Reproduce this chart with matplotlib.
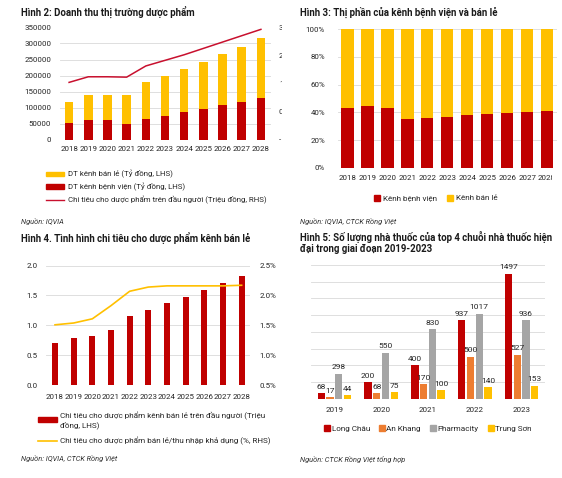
import matplotlib
matplotlib.use('Agg')
import matplotlib.pyplot as plt
from matplotlib.patches import Patch
from matplotlib.lines import Line2D
from matplotlib.transforms import Bbox, TransformedBbox
import numpy as np

plt.rcParams['font.family'] = ['Roboto', 'DejaVu Sans']

W, H = 562, 478
RED = '#C00000'
YEL = '#FFC000'
ORG = '#ED7D31'
GRAY = '#A5A5A5'
GRID = '#D9D9D9'
TXT = '#262626'

years = ['2018', '2019', '2020', '2021', '2022', '2023', '2024', '2025', '2026', '2027', '2028']

# Hinh 2 - doanh thu (ty dong) va chi tieu dau nguoi (trieu dong)
dt_benh_vien = [51200, 60600, 59500, 47000, 62700, 73100, 84600, 95100, 106600, 118000, 129500]
dt_ban_le = [66800, 77400, 80500, 91000, 116000, 125400, 135800, 148300, 160900, 172400, 187100]
chi_tieu_dau_nguoi = [1.53, 1.68, 1.68, 1.67, 1.97, 2.12, 2.27, 2.44, 2.61, 2.78, 2.95]
rhs_ticks = [0, 0.75, 1.5, 2.25, 3.0]
rhs_labels = ['-', '0.8', '1.5', '2.3', '3.0']

# Hinh 3 - thi phan (%)
tp_benh_vien = [43.4, 44.8, 43.2, 35.0, 36.0, 36.7, 38.1, 38.8, 39.8, 40.3, 41.2]
tp_ban_le = [56.6, 55.2, 56.8, 65.0, 64.0, 63.3, 61.9, 61.2, 60.2, 59.7, 58.8]

# Hinh 4 - chi tieu kenh ban le
ct_ban_le = [0.70, 0.79, 0.82, 0.92, 1.165, 1.26, 1.37, 1.48, 1.59, 1.71, 1.83]
ct_thu_nhap = [1.51, 1.54, 1.61, 1.83, 2.07, 2.14, 2.16, 2.16, 2.16, 2.16, 2.17]

# Hinh 5 - so luong nha thuoc
years5 = ['2019', '2020', '2021', '2022', '2023']
chains = ['Long Châu', 'An Khang', 'Pharmacity', 'Trung Sơn']
long_chau = [68, 200, 400, 937, 1497]
an_khang = [17, 68, 170, 500, 527]
pharmacity = [298, 550, 830, 1017, 936]
trung_son = [44, 75, 100, 140, 153]

fig = plt.figure(figsize=(W / 100, H / 100), dpi=100)


def add_ax(x0, y0, x1, y1):
    # pixel box, measured from the top left corner
    return fig.add_axes([x0 / W, 1 - y1 / H, (x1 - x0) / W, (y1 - y0) / H])


def clip_at(artist, xpix):
    artist.set_clip_on(True)
    artist.set_clip_box(TransformedBbox(Bbox([[0, 0], [xpix / W, 1]]), fig.transFigure))


def style(ax, fs=5.7):
    for s in ax.spines.values():
        s.set_visible(False)
    ax.tick_params(length=0, labelsize=fs, colors=TXT)


TITLE = dict(fontsize=6.9, fontweight='bold', color='#1a1a1a', va='center')
SRC = dict(fontsize=5.3, style='italic', color='#333333', va='center')
x = np.arange(len(years))

# ---------- Hinh 2 ----------
ax2 = add_ax(59.5, 27.5, 270.5, 139.5)
ax2.bar(x, dt_benh_vien, width=0.45, color=RED, zorder=2)
ax2.bar(x, dt_ban_le, bottom=dt_benh_vien, width=0.45, color=YEL, zorder=2)
ax2.set_xlim(-0.5, 10.5)
ax2.set_ylim(0, 350000)
ax2.set_yticks(range(0, 350001, 50000))
ax2.set_xticks(x, years)
ax2.grid(axis='y', color=GRID, lw=0.6, zorder=0)
style(ax2)
ax2.tick_params(axis='y', pad=6)
ax2.tick_params(axis='x', pad=5)
ax2r = ax2.twinx()
ax2r.plot(x, chi_tieu_dau_nguoi, color='#C8102E', lw=1.1)
ax2r.set_ylim(0, 3.0)
ax2r.set_yticks(rhs_ticks, rhs_labels)
style(ax2r)
ax2r.tick_params(axis='y', pad=6)
for lab in ax2r.get_yticklabels():
    clip_at(lab, 282)

h2 = [Patch(color=YEL), Patch(color=RED), Line2D([], [], color='#C8102E', lw=1.0)]
l2 = ['DT kênh bán lẻ (Tỷ đồng, LHS)', 'DT kênh bệnh viện (Tỷ đồng, LHS)',
      'Chi tiêu cho dược phẩm trên đầu người (Triệu đồng, RHS)']
ax2.legend(h2, l2, loc='upper left', bbox_to_anchor=(46 / W, 1 - 170 / H),
           bbox_transform=fig.transFigure, frameon=False, fontsize=5.7,
           handlelength=2.3, handleheight=0.5, handletextpad=0.5,
           labelspacing=0.55, borderpad=0, borderaxespad=0, labelcolor=TXT)
fig.text(21 / W, 1 - 12 / H, 'Hình 2: Doanh thu thị trường dược phẩm', **TITLE)
fig.text(21 / W, 1 - 222 / H, 'Nguồn: IQVIA', **SRC)

# ---------- Hinh 3 ----------
ax3 = add_ax(337.5, 29, 557, 168)
ax3.bar(x, tp_benh_vien, width=0.62, color=RED, zorder=2)
ax3.bar(x, tp_ban_le, bottom=tp_benh_vien, width=0.62, color=YEL, zorder=2)
ax3.set_xlim(-0.5, 10.5)
ax3.set_ylim(0, 100)
ax3.set_yticks(range(0, 101, 20), [f'{v}%' for v in range(0, 101, 20)])
ax3.set_xticks(x, years)
ax3.grid(axis='y', color=GRID, lw=0.6, zorder=0)
style(ax3)
ax3.tick_params(axis='y', pad=9)
ax3.tick_params(axis='x', pad=5)
for lab in ax3.get_xticklabels():
    clip_at(lab, 552)
h3 = [Line2D([], [], marker='s', ls='none', color=RED, markersize=4.3),
      Line2D([], [], marker='s', ls='none', color=YEL, markersize=4.3)]
ax3.legend(h3, ['Kênh bệnh viện', 'Kênh bán lẻ'], loc='center left',
           bbox_to_anchor=(374 / W, 1 - 198 / H), bbox_transform=fig.transFigure,
           ncol=2, frameon=False, fontsize=5.9, handlelength=0.7, handletextpad=0.35,
           columnspacing=1.3, borderpad=0, borderaxespad=0, labelcolor=TXT)
fig.text(300 / W, 1 - 12 / H, 'Hình 3: Thị phần của kênh bệnh viện và bán lẻ', **TITLE)
fig.text(300 / W, 1 - 222 / H, 'Nguồn: IQVIA, CTCK Rồng Việt', **SRC)

# ---------- Hinh 4 ----------
ax4 = add_ax(45.7, 265.5, 250, 385.3)
ax4.bar(x, ct_ban_le, width=0.32, color=RED, zorder=2)
ax4.set_xlim(-0.5, 10.45)
ax4.set_ylim(0, 2.0)
ax4.set_yticks(np.arange(0, 2.01, 0.5), [f'{v:.1f}' for v in np.arange(0, 2.01, 0.5)])
ax4.set_xticks(x, years)
ax4.grid(axis='y', color=GRID, lw=0.6, zorder=0)
style(ax4)
ax4.tick_params(axis='y', pad=6)
ax4.tick_params(axis='x', pad=6)
ax4r = ax4.twinx()
ax4r.plot(x, ct_thu_nhap, color=YEL, lw=1.2)
ax4r.set_ylim(0.5, 2.5)
ax4r.set_yticks(np.arange(0.5, 2.51, 0.5), [f'{v:.1f}%' for v in np.arange(0.5, 2.51, 0.5)])
style(ax4r)
ax4r.tick_params(axis='y', pad=7)
h4 = [Patch(color=RED), Line2D([], [], color=YEL, lw=1.2)]
l4 = ['Chi tiêu cho dược phẩm kênh bán lẻ trên đầu người (Triệu\nđồng, LHS)',
      'Chi tiêu cho dược phẩm bán lẻ/thu nhập khả dụng (%, RHS)']
ax4.legend(h4, l4, loc='upper left', bbox_to_anchor=(37.7 / W, 1 - 411.5 / H),
           bbox_transform=fig.transFigure, frameon=False, fontsize=5.9,
           handlelength=2.4, handleheight=0.55, handletextpad=0.35,
           labelspacing=1.0, borderpad=0, borderaxespad=0, labelcolor=TXT)
fig.text(21 / W, 1 - 237.5 / H, 'Hình 4. Tình hình chi tiêu cho dược phẩm kênh bán lẻ', **TITLE)
fig.text(21 / W, 1 - 459 / H, 'Nguồn: IQVIA, CTCK Rồng Việt', **SRC)

# ---------- Hinh 5 ----------
ax5 = add_ax(311, 265, 545, 398.7)
xg = np.arange(len(years5))
pitch, bw = 0.186, 0.156
series5 = [long_chau, an_khang, pharmacity, trung_son]
colors5 = [RED, ORG, GRAY, YEL]
for i, (vals, col, name) in enumerate(zip(series5, colors5, chains)):
    pos = xg + (i - 1.5) * pitch
    ax5.bar(pos, vals, width=bw, color=col, label=name, zorder=2)
    for px, v in zip(pos, vals):
        ax5.annotate(str(v), (px, v), xytext=(0, 2.5), textcoords='offset points',
                     ha='center', va='bottom', fontsize=6.0, color=TXT)
ax5.set_xlim(-0.5, 4.5)
ax5.set_ylim(0, 1600)
ax5.set_yticks(range(0, 1601, 200))
ax5.set_yticklabels([])
ax5.set_xticks(xg, years5)
ax5.grid(axis='y', color=GRID, lw=0.6, zorder=0)
style(ax5, fs=5.8)
ax5.tick_params(axis='x', pad=6)
h5 = [Line2D([], [], marker='s', ls='none', color=c, markersize=3.8) for c in colors5]
ax5.legend(h5, chains, loc='center left', bbox_to_anchor=(325 / W, 1 - 428.3 / H),
           bbox_transform=fig.transFigure, ncol=4, frameon=False, fontsize=5.9,
           handlelength=0.6, handletextpad=0.2, columnspacing=1.2,
           borderpad=0, borderaxespad=0, labelcolor=TXT)
fig.text(300 / W, 1 - 236.7 / H, 'Hình 5: Số lượng nhà thuốc của top 4 chuỗi nhà thuốc hiện', **TITLE)
fig.text(300 / W, 1 - 249.3 / H, 'đại trong giai đoạn 2019-2023', **TITLE)
fig.text(300 / W, 1 - 459 / H, 'Nguồn: CTCK Rồng Việt tổng hợp', **SRC)

fig.savefig('out.png', dpi=100)
